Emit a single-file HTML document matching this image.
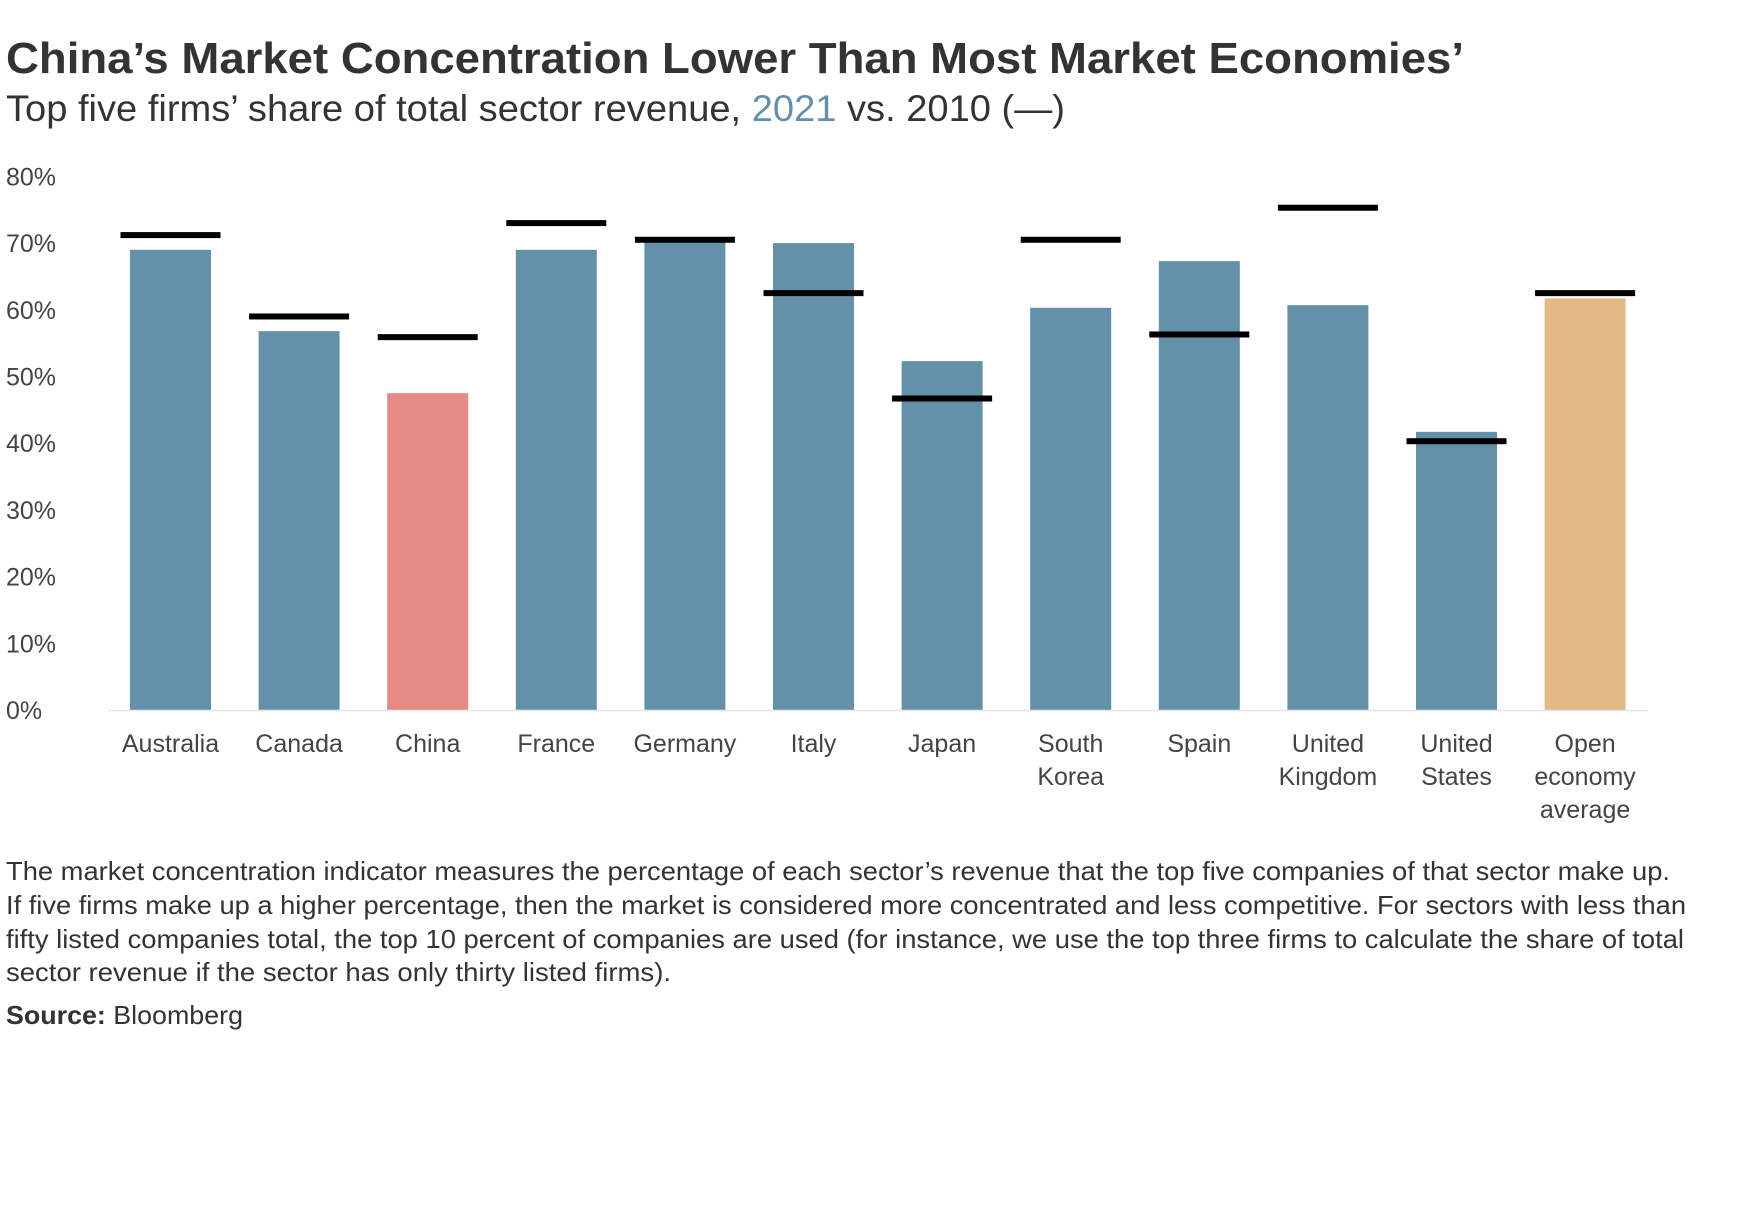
<!DOCTYPE html>
<html><head><meta charset="utf-8"><style>
html,body{margin:0;padding:0;background:#fff;}
svg{display:block;font-family:"Liberation Sans",sans-serif;}
</style></head><body>
<svg id="chart" width="1746" height="1206" viewBox="0 0 1746 1206">
<text x="6" y="73" font-size="44" font-weight="bold" fill="#333" textLength="1458" lengthAdjust="spacingAndGlyphs">China’s Market Concentration Lower Than Most Market Economies’</text>
<text x="6" y="121" font-size="37" fill="#333" textLength="1059" lengthAdjust="spacingAndGlyphs">Top five firms’ share of total sector revenue, <tspan fill="#6391aa">2021</tspan> vs. 2010 (—)</text>
<g id="yaxis"></g>
<g id="bars"></g>
<g id="xaxis"></g>
<g font-size="26" fill="#333">
<text x="6" y="880" textLength="1664" lengthAdjust="spacingAndGlyphs">The market concentration indicator measures the percentage of each sector’s revenue that the top five companies of that sector make up.</text>
<text x="6" y="914" textLength="1680" lengthAdjust="spacingAndGlyphs">If five firms make up a higher percentage, then the market is considered more concentrated and less competitive. For sectors with less than</text>
<text x="6" y="948" textLength="1678" lengthAdjust="spacingAndGlyphs">fifty listed companies total, the top 10 percent of companies are used (for instance, we use the top three firms to calculate the share of total</text>
<text x="6" y="981" textLength="665" lengthAdjust="spacingAndGlyphs">sector revenue if the sector has only thirty listed firms).</text>
</g>
<text x="6" y="1024" font-size="26" fill="#333" textLength="237" lengthAdjust="spacingAndGlyphs"><tspan font-weight="bold">Source:</tspan> Bloomberg</text>
</svg>
<script>
const categories = [["Australia"],["Canada"],["China"],["France"],["Germany"],["Italy"],["Japan"],["South","Korea"],["Spain"],["United","Kingdom"],["United","States"],["Open","economy","average"]];
const values2021 = [69, 56.8, 47.5, 69, 70.3, 70, 52.3, 60.3, 67.3, 60.7, 41.7, 61.7];
const values2010 = [71.2, 59, 55.9, 73, 70.5, 62.5, 46.7, 70.5, 56.3, 75.3, 40.3, 62.5];
const yTicks = [0,10,20,30,40,50,60,70,80];
const NS="http://www.w3.org/2000/svg";
const y0=710, yPer=66.7;
function yScale(v){return y0 - v/10*yPer;}
function xScale(i){return 170.5 + i*128.6;}
function mk(tag,attrs,parent){const e=document.createElementNS(NS,tag);for(const k in attrs)e.setAttribute(k,attrs[k]);parent.appendChild(e);return e;}
const ya=document.getElementById('yaxis'), bg=document.getElementById('bars'), xa=document.getElementById('xaxis');
const axisLine=mk('line',{x1:108,x2:1648,y1:y0+0.5,y2:y0+0.5,stroke:'#e6e6e6','stroke-width':1.5},xa);


yTicks.forEach(t=>{
  const tx=mk('text',{x:6,y:yScale(t)+9,'font-size':25,fill:'#444'},ya);
  
  
  tx.textContent=t+'%';
});
values2021.forEach((v,i)=>{
  const cx=xScale(i);
  const fill=i===2?'#e38b84':(i===11?'#e3b985':'#6391aa');
  const r=mk('rect',{x:cx-40.5,y:yScale(v),width:81,height:y0-yScale(v),fill:fill},bg);
  
  
});
values2010.forEach((v,i)=>{
  const cx=xScale(i);
  const l=mk('rect',{x:cx-50,y:yScale(v)-3,width:100,height:6,fill:'#000'},bg);
  
  
});
categories.forEach((lines,i)=>{
  lines.forEach((s,j)=>{
    const t=mk('text',{x:xScale(i),y:752+j*33,'font-size':25,fill:'#444','text-anchor':'middle'},xa);
    
    
    t.textContent=s;
  });
});
</script>
</body></html>
